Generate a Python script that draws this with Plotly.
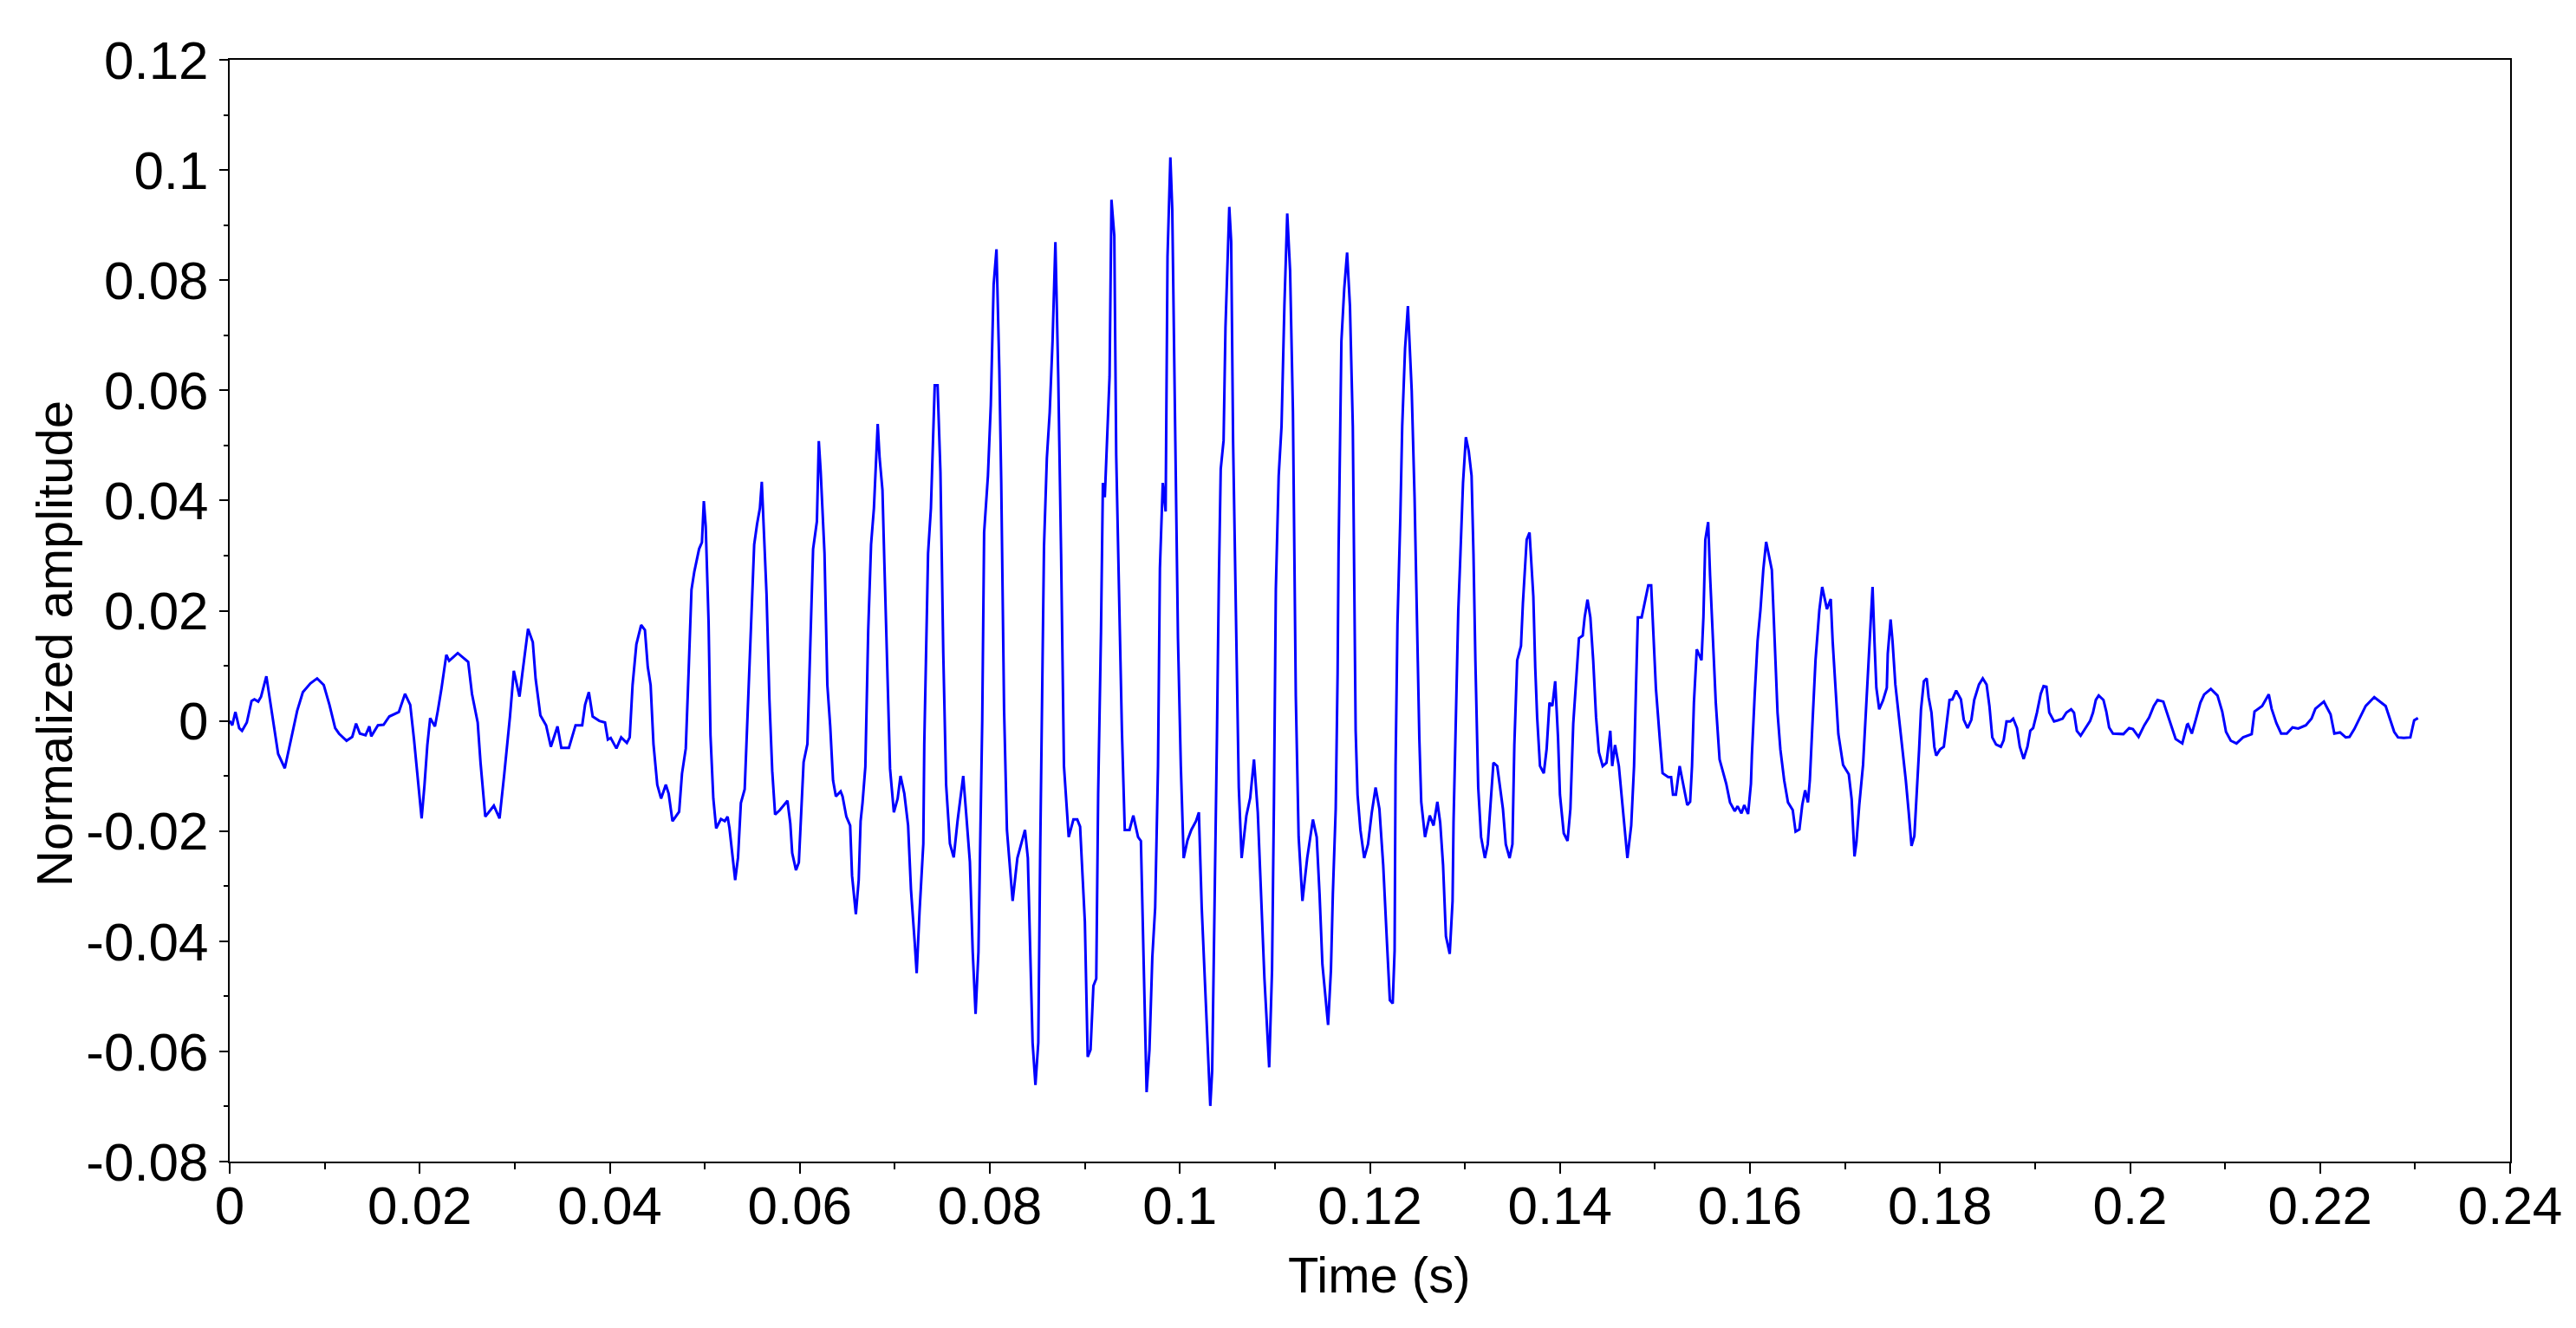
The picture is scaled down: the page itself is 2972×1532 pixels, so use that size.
import plotly.graph_objects as go

# waveform, time in s and normalized amplitude
time_s = [
    0.0, 0.00027, 0.0006, 0.001, 0.0013, 0.0018, 0.0023, 0.0026, 0.003, 0.0033,
    0.00386, 0.0042, 0.0047, 0.0051, 0.0058, 0.0062, 0.0067, 0.0071, 0.0077, 0.0085,
    0.0092, 0.0099, 0.0105, 0.0111, 0.0115, 0.0123, 0.0129, 0.0133, 0.0137, 0.0143,
    0.0147, 0.0149, 0.0156, 0.0162, 0.0168, 0.0178, 0.01845, 0.019, 0.0194, 0.0197,
    0.0202, 0.0205, 0.0208, 0.0211, 0.0216, 0.0219, 0.0223, 0.0228, 0.0231, 0.024,
    0.0251, 0.0255, 0.0261, 0.0264, 0.0269, 0.0278, 0.0284, 0.0289, 0.0295, 0.0299,
    0.0305, 0.0308, 0.0314, 0.0319, 0.0322, 0.0327, 0.0333, 0.0338, 0.0345, 0.0349,
    0.0357, 0.0364, 0.0371, 0.0374, 0.0378, 0.0382, 0.0389, 0.0395,
    0.0398, 0.0401, 0.0407, 0.0412, 0.0418, 0.0421, 0.0424, 0.0428, 0.0433, 0.0437,
    0.044, 0.0443, 0.0446, 0.045, 0.0454, 0.0459, 0.0462, 0.0466, 0.0473, 0.0476,
    0.048, 0.0483, 0.0486, 0.0489, 0.0494, 0.0497, 0.0499, 0.0501, 0.0502, 0.0504,
    0.0506, 0.0509, 0.0512, 0.0517, 0.0521, 0.0524, 0.0526, 0.0529, 0.0532, 0.0535,
    0.0538, 0.0542, 0.0545, 0.0549, 0.0552, 0.0555, 0.0558, 0.056, 0.0562, 0.0565,
    0.0568, 0.0571, 0.0574, 0.0579, 0.0587, 0.059, 0.0592, 0.0596, 0.0599, 0.0602,
    0.0604, 0.0608, 0.0611, 0.0614, 0.0618, 0.062, 0.0622, 0.0626, 0.0629, 0.0632,
    0.0635, 0.0638, 0.0643, 0.0645, 0.0649, 0.0653, 0.0655, 0.0659, 0.0662, 0.0664,
    0.0666, 0.0669, 0.0672, 0.0675, 0.0678, 0.0682, 0.0684, 0.0687, 0.0689, 0.0692,
    0.0695, 0.0699, 0.0703, 0.0706, 0.071, 0.0714, 0.0717, 0.0721, 0.0723, 0.0726,
    0.073, 0.0731, 0.0733, 0.0735, 0.0738, 0.0742, 0.0745, 0.0748, 0.0751, 0.0754,
    0.0758, 0.0762, 0.0766, 0.0772, 0.0775, 0.0779, 0.0782, 0.0785, 0.0788,
    0.079, 0.0792, 0.0794, 0.0798, 0.0801, 0.0804, 0.0807, 0.081, 0.0812, 0.0815,
    0.0818, 0.0821, 0.0824, 0.0829, 0.0833, 0.0837, 0.084, 0.0842, 0.0845, 0.0848,
    0.0851, 0.0853, 0.0855, 0.0857, 0.086, 0.0863, 0.0866, 0.0869, 0.087, 0.0872,
    0.0875, 0.0878, 0.0883, 0.0888, 0.0892, 0.0895, 0.09, 0.0903, 0.0906, 0.0909,
    0.0912, 0.0914, 0.0917, 0.0919, 0.0921, 0.0926, 0.0928, 0.0931, 0.0933, 0.0936,
    0.0939, 0.0942, 0.0947, 0.0951, 0.0956, 0.0959, 0.0962, 0.0965, 0.0968, 0.0971,
    0.0974, 0.0977, 0.0979, 0.0982, 0.0985, 0.0987, 0.099, 0.0992, 0.0995, 0.0998,
    0.1001, 0.1004, 0.1008, 0.1012, 0.1017, 0.102, 0.1023, 0.1026, 0.103, 0.1032,
    0.1034, 0.1037, 0.1039, 0.1041, 0.1043, 0.1046, 0.1048, 0.1052, 0.1054, 0.1056,
    0.1059, 0.1062, 0.1065, 0.107, 0.1074, 0.1078, 0.1082, 0.1085, 0.1089, 0.1094,
    0.1097, 0.1099, 0.1101, 0.1104, 0.1107, 0.111, 0.1113, 0.1116, 0.1119, 0.1122,
    0.1125, 0.1129, 0.1134, 0.114, 0.1144, 0.1147, 0.115, 0.1156, 0.1159, 0.1161,
    0.1164, 0.1166, 0.1167, 0.117, 0.1173, 0.1176, 0.1179, 0.1182,
    0.1185, 0.1187, 0.119, 0.1194, 0.1198, 0.1202, 0.1206, 0.121, 0.1214, 0.1218,
    0.1221, 0.1224, 0.1226, 0.1227, 0.1229, 0.1232, 0.1234, 0.1237, 0.124, 0.1242,
    0.1244, 0.1247, 0.1249, 0.1252, 0.1254, 0.1258, 0.1263, 0.1267, 0.1271, 0.1274,
    0.1277, 0.128, 0.1284, 0.1287, 0.1288, 0.1291, 0.1293, 0.1295, 0.1298, 0.1301,
    0.1304, 0.1307, 0.1309, 0.1311, 0.1314, 0.1317, 0.1321, 0.1324, 0.1327, 0.133,
    0.1334, 0.1337, 0.134, 0.1343, 0.1347, 0.135, 0.1352, 0.1355, 0.1359, 0.1361,
    0.1365, 0.1368, 0.1372, 0.1374, 0.1376, 0.1379, 0.1383, 0.1386, 0.1389, 0.1392,
    0.1395, 0.1398, 0.14, 0.1404, 0.1408, 0.1411, 0.1414, 0.1417, 0.142, 0.1424,
    0.1426, 0.1429, 0.1432, 0.1435, 0.1438, 0.1441, 0.1445, 0.1449, 0.1453, 0.1455,
    0.1458, 0.1462, 0.1467, 0.1471, 0.1475, 0.1478, 0.148, 0.1482, 0.1486, 0.149,
    0.1493, 0.1496, 0.1498, 0.1501, 0.1505, 0.1508, 0.1514, 0.1517, 0.1519, 0.1522,
    0.1526, 0.1529, 0.1534, 0.1537, 0.1539, 0.1541, 0.1544, 0.1549, 0.1551, 0.1553,
    0.1556, 0.1558, 0.1561, 0.1564, 0.1568,
    0.1575, 0.1579, 0.1584, 0.1587, 0.1591, 0.1594, 0.1598, 0.1601, 0.1602, 0.1605,
    0.1608, 0.1611, 0.1614, 0.1617, 0.162, 0.1623, 0.1626, 0.1629, 0.1632, 0.1636,
    0.164, 0.1645, 0.1648, 0.1652, 0.1655, 0.1658, 0.1661, 0.1663, 0.1666, 0.1669,
    0.1673, 0.1676, 0.1681, 0.1685, 0.1687, 0.169, 0.1693, 0.1698, 0.1704, 0.1707,
    0.171, 0.1712, 0.1715, 0.1719, 0.1722, 0.1725, 0.1727, 0.1729, 0.1731, 0.1733,
    0.1736, 0.174, 0.1744, 0.1745, 0.1748, 0.175, 0.1753, 0.1757, 0.176, 0.1764,
    0.1767, 0.177, 0.1773, 0.1776, 0.1778, 0.178, 0.1783, 0.1786, 0.1788, 0.1791,
    0.1794, 0.1796, 0.18, 0.1804, 0.1807, 0.181, 0.1813, 0.1817, 0.1822, 0.1825,
    0.1829, 0.1833, 0.1836, 0.1841, 0.1845, 0.1849, 0.1852, 0.1855, 0.1859, 0.1864,
    0.1867, 0.187, 0.1874, 0.1877, 0.1881, 0.1884, 0.1888, 0.1892, 0.1895, 0.1898,
    0.1902, 0.1906, 0.1909, 0.1912, 0.1915, 0.192, 0.1924, 0.1929, 0.1933, 0.1938,
    0.1941, 0.1944, 0.1948, 0.1953, 0.1958, 0.1961,
    0.1964, 0.1967, 0.1972, 0.1975, 0.1978, 0.1982, 0.1993, 0.1999, 0.2003, 0.2009,
    0.2015, 0.202, 0.2025, 0.2029, 0.2035, 0.2039, 0.2043, 0.2048, 0.2055, 0.206,
    0.2061, 0.2065, 0.2069, 0.2074, 0.2078, 0.2085, 0.2092, 0.2097, 0.2101, 0.2106,
    0.2112, 0.2119, 0.2128, 0.2131, 0.2139, 0.2146, 0.2149, 0.2154, 0.2159, 0.2165,
    0.2171, 0.2177, 0.2185, 0.2191, 0.2195, 0.22, 0.2204, 0.2207, 0.2211, 0.2215,
    0.2221, 0.2227, 0.2231, 0.2236, 0.2242, 0.2248, 0.2257, 0.2263, 0.2269, 0.2274,
    0.2278, 0.2282, 0.2288, 0.2295, 0.2298, 0.2299, 0.2303,
]

amplitude = [
    0.0, -0.0008, 0.0016, -0.0013, -0.0018, -0.0003, 0.0036, 0.0039, 0.0035, 0.0044,
    0.0081, 0.0044, -0.0013, -0.006, -0.0086, -0.0055, -0.0018, 0.0018, 0.0052, 0.0068,
    0.0077, 0.0065, 0.0029, -0.0013, -0.0023, -0.0036, -0.0029, -0.0005, -0.0023, -0.0026,
    -0.001, -0.0028, -0.0008, -0.0007, 0.0008, 0.0016, 0.0049, 0.0029, -0.0034, -0.0091,
    -0.0177, -0.0117, -0.0044, 0.0005, -0.001, 0.0018, 0.006, 0.012, 0.0109, 0.0123,
    0.0107, 0.0049, -0.0003, -0.0076, -0.0174, -0.0154, -0.0177, -0.0096, 0.0008, 0.0091,
    0.0044, 0.0086, 0.0167, 0.0143, 0.0076, 0.001, -0.0008, -0.0047, -0.001, -0.0049,
    -0.0049, -0.0008, -0.0008, 0.0029, 0.0052, 0.0008, 0.0, -0.0003,
    -0.0034, -0.0031, -0.005, -0.003, -0.004, -0.003, 0.0065, 0.0139, 0.0174, 0.0165,
    0.0098, 0.0065, -0.0042, -0.0116, -0.0141, -0.0116, -0.0132, -0.0182, -0.0165, -0.0096,
    -0.005, 0.009, 0.0238, 0.0271, 0.0312, 0.0324, 0.0399, 0.0353, 0.0304, 0.018,
    -0.0026, -0.0141, -0.0195, -0.0178, -0.0182, -0.0174, -0.0195, -0.0248, -0.0289, -0.0248,
    -0.0149, -0.0124, 0.0016, 0.0205, 0.032, 0.0357, 0.0386, 0.0434, 0.0362, 0.023,
    0.004, -0.0091, -0.017, -0.0162, -0.0145, -0.0186, -0.024, -0.0271, -0.0257, -0.0161,
    -0.0075, -0.0042, 0.0139, 0.0312, 0.0362, 0.0508, 0.0452, 0.0304, 0.0065, -0.0009,
    -0.0108, -0.0137, -0.0128, -0.0137, -0.0174, -0.019, -0.0281, -0.0351, -0.0289, -0.0182,
    -0.0149, -0.0083, 0.0164, 0.032, 0.0386, 0.0539, 0.0477, 0.0419, 0.0287, 0.0081,
    -0.0087, -0.0166, -0.0141, -0.01, -0.0132, -0.019, -0.0306, -0.0404, -0.0458, -0.0347,
    -0.0223, -0.0042, 0.0156, 0.0304, 0.0386, 0.0609, 0.0609, 0.0452, 0.0123, -0.0116,
    -0.0223, -0.0248, -0.0182, -0.01, -0.0166, -0.0256, -0.042, -0.0532, -0.042,
    -0.024, 0.0, 0.0342, 0.0445, 0.0573, 0.0792, 0.0856, 0.0637, 0.0432, 0.002,
    -0.0198, -0.0262, -0.0327, -0.0249, -0.0224, -0.0198, -0.0249, -0.0404, -0.0584, -0.0661,
    -0.0584, -0.0237, 0.0059, 0.0316, 0.0477, 0.056, 0.0689, 0.0869, 0.079, 0.0625,
    0.0303, -0.0082, -0.0211, -0.0179, -0.0179, -0.0192, -0.0365, -0.061, -0.0597, -0.0481,
    -0.0468, -0.0134, 0.0162, 0.0432, 0.0406, 0.0625, 0.0946, 0.088, 0.0483, 0.0226,
    -0.0018, -0.0198, -0.0198, -0.0172, -0.0211, -0.0218, -0.0442, -0.0674, -0.0597, -0.0429,
    -0.0339, -0.0082, 0.0277, 0.0432, 0.038, 0.0843, 0.1023, 0.0928, 0.0535, 0.015,
    -0.0082, -0.0249, -0.0217, -0.0198, -0.0182, -0.0166, -0.0339, -0.0468, -0.0635, -0.0699,
    -0.0635, -0.0314, -0.0031, 0.0252, 0.0457, 0.0509, 0.0715, 0.0933, 0.087, 0.0509,
    0.0213, -0.0121, -0.0249, -0.0172, -0.014, -0.007, -0.0166, -0.0301, -0.0468, -0.0629,
    -0.0452, -0.0147, 0.0239, 0.0445, 0.0535, 0.0753, 0.0921, 0.0817, 0.056, 0.0046,
    -0.0211, -0.0327, -0.0249, -0.0179, -0.0211, -0.0314, -0.0442, -0.0552, -0.0452, -0.0314,
    -0.016, 0.0085, 0.0303, 0.0689, 0.0785, 0.085, 0.0753, 0.0535,
    -0.0018, -0.0134, -0.0198, -0.0249, -0.0224, -0.0166, -0.0121, -0.016, -0.0262, -0.0404,
    -0.0507, -0.0513, -0.0417, -0.0082, 0.0175, 0.0368, 0.0535, 0.0676, 0.0753, 0.0676,
    0.0599, 0.0406, 0.0226, -0.0031, -0.0147, -0.0211, -0.0172, -0.019, -0.0147, -0.0185,
    -0.0262, -0.0391, -0.0423, -0.0327, -0.0185, 0.0033, 0.02, 0.029, 0.0432, 0.0515,
    0.049, 0.0445, 0.0303, 0.011, -0.0121, -0.0211, -0.0249, -0.0224, -0.0147, -0.0076,
    -0.0082, -0.0121, -0.016, -0.0224, -0.0249, -0.0224, -0.0044, 0.011, 0.0136, 0.0213,
    0.0329, 0.0342, 0.0226, 0.0097, 0.0007, -0.0082, -0.0095, -0.0051, 0.0033, 0.0027,
    0.0072, -0.0031, -0.0134, -0.0204, -0.0218, -0.016, -0.0005, 0.0072, 0.015, 0.0155,
    0.0188, 0.022, 0.0188, 0.011, 0.0007, -0.0057, -0.0082, -0.0076, -0.0018, -0.0082,
    -0.0044, -0.0082, -0.0172, -0.0249, -0.019, -0.0082, 0.0059, 0.0188, 0.0188, 0.022,
    0.0246, 0.0246, 0.0175, 0.0059, -0.0031, -0.0095, -0.0102, -0.0102, -0.0134, -0.0134,
    -0.0082, -0.0108, -0.0153, -0.0147, -0.0082, 0.0033, 0.013, 0.011, 0.0188, 0.0329,
    0.0361, 0.0264, 0.015, 0.0033, -0.007,
    -0.0114, -0.0148, -0.0164, -0.0155, -0.0168, -0.0153, -0.0169, -0.0114, -0.0063, 0.0049,
    0.0145, 0.0201, 0.0274, 0.0325, 0.0297, 0.0274, 0.0145, 0.0015, -0.0052, -0.0108,
    -0.0148, -0.0162, -0.0201, -0.0197, -0.0153, -0.0126, -0.0148, -0.0108, 0.0004, 0.0111,
    0.0201, 0.0243, 0.0203, 0.0221, 0.0145, 0.006, -0.0024, -0.008, -0.0097, -0.0142,
    -0.0246, -0.0221, -0.0153, -0.008, 0.0015, 0.0111, 0.0184, 0.0243, 0.0145, 0.006,
    0.0021, 0.0037, 0.006, 0.0122, 0.0184, 0.0145, 0.0066, 0.0004, -0.0052, -0.0108,
    -0.0165, -0.0227, -0.0209, -0.012, -0.0052, 0.0021, 0.0072, 0.0077, 0.0043, 0.0015,
    -0.0047, -0.0063, -0.0052, -0.0047, -0.0007, 0.0038, 0.0039, 0.0055, 0.0039, 0.0002,
    -0.0013, 0.0002, 0.0038, 0.0066, 0.0077, 0.0066, 0.0027, -0.003, -0.0043, -0.0047,
    -0.0035, -0.0001, -0.0001, 0.0004, -0.0013, -0.0047, -0.0069, -0.0047, -0.0018, -0.0013,
    0.0015, 0.0049, 0.0063, 0.0062, 0.0015, -0.0001, 0.0001, 0.0004, 0.0015, 0.0021,
    0.0015, -0.0018, -0.0027, -0.0013, 0.0, 0.0015,
    0.0038, 0.0046, 0.0038, 0.0017, -0.0012, -0.0023, -0.0024, -0.0013, -0.0015, -0.0029,
    -0.0008, 0.0006, 0.0027, 0.0038, 0.0035, 0.0014, -0.0008, -0.0033, -0.0041, -0.0007,
    -0.0006, -0.0023, 0.0001, 0.0033, 0.0048, 0.0058, 0.0046, 0.0017, -0.002, -0.0036,
    -0.0041, -0.003, -0.0024, 0.0017, 0.0027, 0.0048, 0.0022, -0.0004, -0.0023, -0.0023,
    -0.0012, -0.0014, -0.0008, 0.0004, 0.0022, 0.003, 0.0035, 0.0025, 0.0012, -0.0023,
    -0.0021, -0.003, -0.0029, -0.0015, 0.0006, 0.0027, 0.0043, 0.0035, 0.0027, 0.0001,
    -0.002, -0.003, -0.0031, -0.003, -0.0004, 0.0001, 0.0005,
]

x_ticks = [0, 0.02, 0.04, 0.06, 0.08, 0.1, 0.12, 0.14, 0.16, 0.18, 0.2, 0.22, 0.24]
x_labels = ["0", "0.02", "0.04", "0.06", "0.08", "0.1", "0.12", "0.14", "0.16",
            "0.18", "0.2", "0.22", "0.24"]
y_ticks = [-0.08, -0.06, -0.04, -0.02, 0, 0.02, 0.04, 0.06, 0.08, 0.1, 0.12]
y_labels = ["-0.08", "-0.06", "-0.04", "-0.02", "0", "0.02", "0.04", "0.06",
            "0.08", "0.1", "0.12"]

font_name = "Liberation Sans, Arial, sans-serif"

fig = go.Figure()
fig.add_trace(go.Scatter(x=time_s, y=amplitude, mode="lines",
                         line=dict(color="#0000ff", width=3),
                         showlegend=False))

fig.update_layout(
    width=2972, height=1532,
    margin=dict(l=257, r=84, t=61, b=200),
    paper_bgcolor="white", plot_bgcolor="white",
    font=dict(family=font_name, size=62, color="black"),
)

fig.update_xaxes(
    range=[0, 0.24], tickvals=x_ticks, ticktext=x_labels,
    showgrid=False, zeroline=False,
    showline=True, linecolor="black", linewidth=2, mirror=True,
    ticks="outside", ticklen=12, tickwidth=2, tickcolor="black",
    ticklabelstandoff=-16,
    minor=dict(dtick=0.01, ticks="outside", ticklen=7, tickwidth=2, tickcolor="black"),
    tickfont=dict(family=font_name, size=62),
)
fig.update_yaxes(
    range=[-0.08, 0.12], tickvals=y_ticks, ticktext=y_labels,
    showgrid=False, zeroline=False,
    showline=True, linecolor="black", linewidth=2, mirror=True,
    ticks="outside", ticklen=10, tickwidth=2, tickcolor="black",
    minor=dict(dtick=0.01, ticks="outside", ticklen=5, tickwidth=2, tickcolor="black"),
    tickfont=dict(family=font_name, size=62),
)

# axis titles placed as annotations to match the reference positions
fig.add_annotation(text="Time (s)", xref="paper", yref="paper",
                   x=0.504, y=-0.1023, xanchor="center", yanchor="middle",
                   showarrow=False, font=dict(family=font_name, size=58))
fig.add_annotation(text="Normalized amplitude", xref="paper", yref="paper",
                   x=-0.0768, y=0.4705, xanchor="center", yanchor="middle",
                   textangle=-90, showarrow=False,
                   font=dict(family=font_name, size=58))

fig.write_html("out.html")
